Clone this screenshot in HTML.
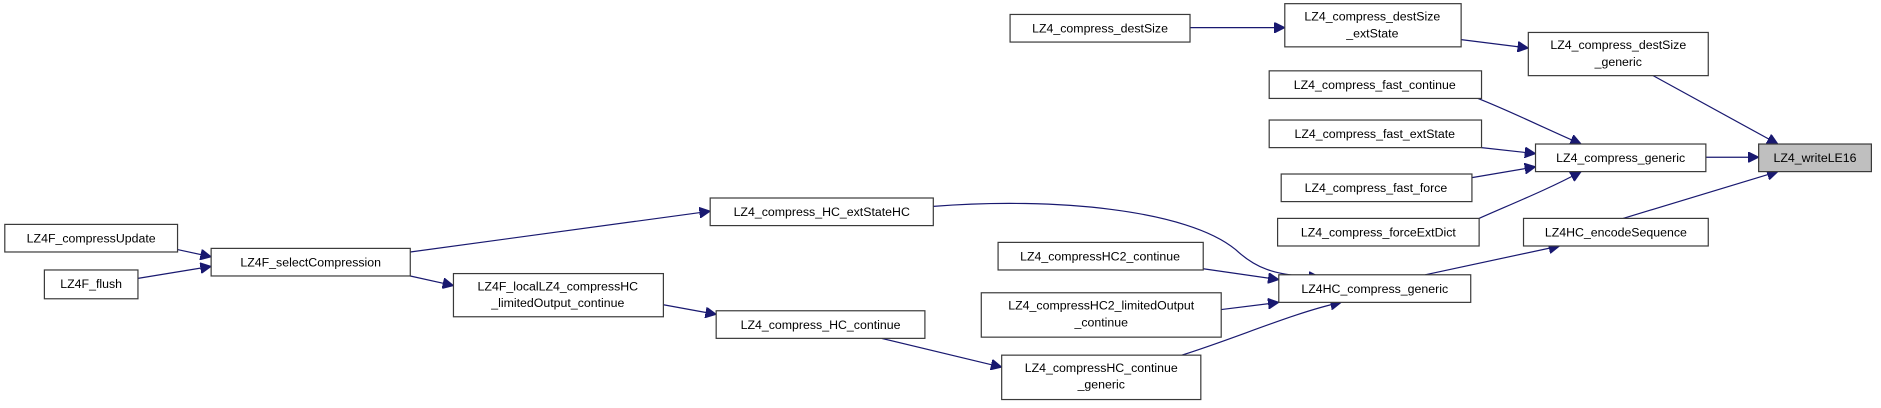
<!DOCTYPE html>
<html><head><meta charset="utf-8"><style>
html,body{margin:0;padding:0;background:#fff;}
svg{display:block;}
text{font-family:"Liberation Sans",sans-serif;font-size:10.3px;fill:#000;text-anchor:middle;}
rect{fill:#fff;stroke:#3a3a3a;stroke-width:1;}
path{fill:none;stroke:#191970;stroke-width:1;}
</style></head><body>
<svg width="1881" height="408" viewBox="0 0 1568 340" xmlns="http://www.w3.org/2000/svg">
<defs><marker id="a" viewBox="0 0 10 10" refX="10" refY="5" markerWidth="9" markerHeight="9" markerUnits="userSpaceOnUse" orient="auto"><path d="M0,0 L10,5 L0,10 z" style="fill:#191970;stroke:#191970"/></marker></defs>
<g marker-end="url(#a)">
<path d="M992,23 L1071,23"/>
<path d="M1218,33 L1274,40"/>
<path d="M1378,63 L1482,120"/>
<path d="M1232,82 C1260,93 1290,108 1318,120"/>
<path d="M1235,123 L1280,128"/>
<path d="M1227,148 L1280,139"/>
<path d="M1233,182 C1260,170 1290,158 1318,143"/>
<path d="M1422,131 L1466,131"/>
<path d="M1353,182 L1482,143"/>
<path d="M1188,229 L1300,205"/>
<path d="M148,208 L176,214"/>
<path d="M115,232 L176,222"/>
<path d="M342,210 L592,176"/>
<path d="M342,230 L378,238"/>
<path d="M553,254 L597,262"/>
<path d="M778,172 C880,164 990,175 1030,208 C1045,222 1060,230 1100,231"/>
<path d="M1003,224 L1066,233"/>
<path d="M1018,258 L1066,252"/>
<path d="M735,282 L835,306"/>
<path d="M985,296 C1030,282 1080,260 1118,252"/>
</g>
<rect x="842" y="12" width="150" height="23"/><text x="917" y="27">LZ4_compress_destSize</text>
<rect x="1071" y="3" width="147" height="36"/><text x="1144" y="17">LZ4_compress_destSize</text><text x="1144" y="31">_extState</text>
<rect x="1274" y="27" width="150" height="36"/><text x="1349" y="41">LZ4_compress_destSize</text><text x="1349" y="55">_generic</text>
<rect x="1058" y="59" width="177" height="23"/><text x="1146" y="74">LZ4_compress_fast_continue</text>
<rect x="1058" y="100" width="177" height="23"/><text x="1146" y="115">LZ4_compress_fast_extState</text>
<rect x="1280" y="120" width="142" height="23"/><text x="1351" y="135">LZ4_compress_generic</text>
<rect x="1466" y="120" width="94" height="23" style="fill:#bfbfbf"/><text x="1513" y="135">LZ4_writeLE16</text>
<rect x="1068" y="145" width="159" height="23"/><text x="1147" y="160">LZ4_compress_fast_force</text>
<rect x="1065" y="182" width="168" height="23"/><text x="1149" y="197">LZ4_compress_forceExtDict</text>
<rect x="1270" y="182" width="154" height="23"/><text x="1347" y="197">LZ4HC_encodeSequence</text>
<rect x="592" y="165" width="186" height="23"/><text x="685" y="180">LZ4_compress_HC_extStateHC</text>
<rect x="4" y="187" width="144" height="23"/><text x="76" y="202">LZ4F_compressUpdate</text>
<rect x="176" y="207" width="166" height="23"/><text x="259" y="222">LZ4F_selectCompression</text>
<rect x="37" y="225" width="78" height="24"/><text x="76" y="240">LZ4F_flush</text>
<rect x="832" y="202" width="171" height="23"/><text x="917" y="217">LZ4_compressHC2_continue</text>
<rect x="1066" y="229" width="160" height="23"/><text x="1146" y="244">LZ4HC_compress_generic</text>
<rect x="378" y="228" width="175" height="36"/><text x="465" y="242">LZ4F_localLZ4_compressHC</text><text x="465" y="256">_limitedOutput_continue</text>
<rect x="818" y="244" width="200" height="37"/><text x="918" y="258">LZ4_compressHC2_limitedOutput</text><text x="918" y="272">_continue</text>
<rect x="597" y="259" width="174" height="23"/><text x="684" y="274">LZ4_compress_HC_continue</text>
<rect x="835" y="296" width="166" height="37"/><text x="918" y="310">LZ4_compressHC_continue</text><text x="918" y="324">_generic</text>
</svg>
</body></html>
